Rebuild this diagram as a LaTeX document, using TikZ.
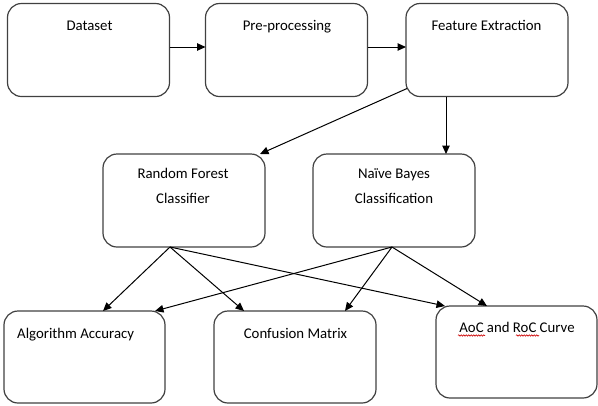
\documentclass[tikz,border=0pt]{standalone}
\usepackage{fontspec}
\setmainfont{Carlito}
\usetikzlibrary{arrows.meta,decorations.pathmorphing}
\begin{document}
\begin{tikzpicture}[x=1bp,y=-1bp,
  box/.style={draw=black!75,line width=1.2bp,rounded corners=14bp,inner sep=0pt,outer sep=0pt,minimum width=162bp,minimum height=93bp},
  lbl/.style={anchor=base,inner sep=0pt,font=\fontsize{14.8bp}{17bp}\selectfont,text=black},
  arr/.style={line width=1bp,-{Triangle[length=8.5bp,width=7.5bp]}},
  squig/.style={red!80!black,line width=0.6bp,decorate,decoration={snake,segment length=2.5bp,amplitude=0.7bp}}]
\useasboundingbox (0,0) rectangle (598,405);
% boxes
\node[box] (ds) at (88.5,50) {};
\node[box] (pp) at (286.5,50) {};
\node[box] (fe) at (487,50) {};
\node[box] (rf) at (184,200.5) {};
\node[box] (nb) at (394,200.5) {};
\node[box,minimum width=161bp,minimum height=92bp] (aa) at (84.5,357) {};
\node[box,minimum width=162bp,minimum height=92bp] (cm) at (295,357) {};
\node[box,minimum width=161bp,minimum height=92bp] (ar) at (516.5,352) {};
% labels
\node[lbl] (tds) at (89.5,30) {Dataset};
\node[lbl] (tpp) at (287,30) {Pre-processing};
\node[lbl] (tfe) at (486.5,30) {Feature Extraction};
\node[lbl] (trf1) at (183,178) {Random Forest};
\node[lbl] (trf2) at (183,203) {Classifier};
\node[lbl] (tnb1) at (394,178) {Naïve Bayes};
\node[lbl] (tnb2) at (394,203) {Classification};
\node[lbl,anchor=base west] (taa) at (17,338) {Algorithm Accuracy};
\node[lbl] (tcm) at (295.5,338) {Confusion Matrix};
\node[lbl] (tar) at (517,332) {AoC and RoC Curve};
% spell-check marks
\draw[squig] (458,335.5) -- (485,335.5);
\draw[squig] (516,335.5) -- (539,335.5);
% connectors
\draw[arr] ([yshift=3bp]ds.east) -- ([yshift=3bp]pp.west);
\draw[arr] ([yshift=3bp]pp.east) -- ([yshift=3bp]fe.west);
\draw[arr] ([shift={(1,-8)}]fe.south west) -- ([xshift=-5bp]rf.north east);
\draw[arr] ([xshift=-41bp]fe.south) -- ([xshift=-41bp]fe.south |- nb.north);
\coordinate (rfo) at ([xshift=-14bp]rf.south);
\coordinate (nbo) at ([xshift=-2bp]nb.south);
\draw[arr] (rfo) -- ([xshift=18.5bp]aa.north);
\draw[arr] (rfo) -- ([xshift=-51bp]cm.north);
\draw[arr] (rfo) -- ([xshift=9bp]ar.north west);
\draw[arr] (nbo) -- ([xshift=-10bp]aa.north east);
\draw[arr] (nbo) -- ([xshift=50bp]cm.north);
\draw[arr] (nbo) -- ([xshift=-29.5bp]ar.north);
\end{tikzpicture}
\end{document}
